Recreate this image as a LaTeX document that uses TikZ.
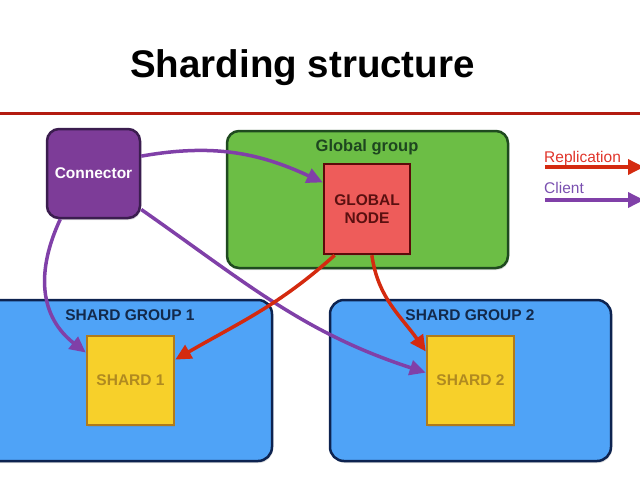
\documentclass[tikz,border=0pt]{standalone}
\usepackage{fontspec}
\setmainfont{Liberation Sans}
\usetikzlibrary{arrows.meta,shadows}
\definecolor{titleline}{HTML}{B31B10}
\definecolor{connfill}{HTML}{7D3C98}
\definecolor{conndraw}{HTML}{3B1D4F}
\definecolor{ggfill}{HTML}{6CBE45}
\definecolor{ggdraw}{HTML}{1F4A1F}
\definecolor{ggtext}{HTML}{1E4620}
\definecolor{gnfill}{HTML}{EE5C5A}
\definecolor{gndraw}{HTML}{5C0A0A}
\definecolor{gntext}{HTML}{5A1010}
\definecolor{sgfill}{HTML}{4FA3F7}
\definecolor{sgdraw}{HTML}{0D2350}
\definecolor{sgtext}{HTML}{13294B}
\definecolor{shfill}{HTML}{F7D02A}
\definecolor{shdraw}{HTML}{B07A1A}
\definecolor{shtext}{HTML}{B08A20}
\definecolor{repl}{HTML}{D42A0F}
\definecolor{cli}{HTML}{8040A8}
\definecolor{repltext}{HTML}{E0342A}
\definecolor{clitext}{HTML}{7A50B0}
\begin{document}
\begin{tikzpicture}[x=1pt,y=-1pt,
  box/.style={draw, line width=2.5pt, inner sep=0pt,
    drop shadow={shadow xshift=1pt, shadow yshift=-2pt, opacity=0.25}},
  lbl/.style={font=\fontsize{15.5}{18}\selectfont\bfseries, align=center},
  arr/.style={line width=3.5pt, -{Triangle[length=16pt,width=15pt]}},
  replarr/.style={arr, draw=repl},
  cliarr/.style={arr, draw=cli}]
\useasboundingbox (0,0) rectangle (640,480);
\clip (0,0) rectangle (640,480);

% title
\node[anchor=base, font=\fontsize{38.5}{42}\selectfont\bfseries] (title) at (302.5,77) {Sharding structure};
\draw[line width=3pt, titleline] (0,113) -- (640,113);

% groups
\node[box, rounded corners=12pt, fill=ggfill, draw=ggdraw, minimum width=281pt, minimum height=137pt] (gg) at (367.5,199.5) {};
\node[lbl, text=ggtext, font=\fontsize{16.5}{18}\selectfont\bfseries] (ggl) at (367,147) {Global group};
\node[box, rounded corners=14pt, fill=sgfill, draw=sgdraw, minimum width=300pt, minimum height=161pt] (sg1) at (122,380.5) {};
\node[lbl, text=sgtext] (sg1l) at (130,315) {SHARD GROUP 1};
\node[box, rounded corners=14pt, fill=sgfill, draw=sgdraw, minimum width=281pt, minimum height=161pt] (sg2) at (470.5,380.5) {};
\node[lbl, text=sgtext] (sg2l) at (470,315) {SHARD GROUP 2};

% nodes
\node[box, rounded corners=12pt, fill=connfill, draw=conndraw, minimum width=93pt, minimum height=89pt, text=white, font=\fontsize{15.5}{18}\selectfont\bfseries] (conn) at (93.5,173.5) {Connector};
\node[box, fill=gnfill, draw=gndraw, minimum width=86pt, minimum height=90pt, lbl, text=gntext] (gn) at (367,209) {GLOBAL\\NODE};
\node[box, fill=shfill, draw=shdraw, minimum width=87pt, minimum height=89pt, lbl, text=shtext] (s1) at (130.5,380.5) {SHARD 1};
\node[box, fill=shfill, draw=shdraw, minimum width=87pt, minimum height=89pt, lbl, text=shtext] (s2) at (470.5,380.5) {SHARD 2};

% connectors
\draw[cliarr] (conn.20) to[out=10,in=155] (gn.149);
\draw[cliarr] (conn.234) to[out=245,in=142,looseness=1.1] (s1.148);
\draw[cliarr] (conn.-37) to[out=-35,in=162] (s2.170);
\draw[replarr] (gn.235) to[out=222,in=30] (s1.25);
\draw[replarr] (gn.-84) to[out=-82,in=125] (s2.147);

% legend
\node[anchor=base west, text=repltext, font=\fontsize{15.5}{18}\selectfont, inner sep=0pt] (lr) at (544,162) {Replication};
\coordinate (lra) at (545,167);
\coordinate (lrb) at (644,167);
\draw[replarr] (lra) -- (lrb);
\node[anchor=base west, text=clitext, font=\fontsize{15.5}{18}\selectfont, inner sep=0pt] (lc) at (544,193) {Client};
\coordinate (lca) at (545,200);
\coordinate (lcb) at (644,200);
\draw[cliarr] (lca) -- (lcb);
\end{tikzpicture}
\end{document}
